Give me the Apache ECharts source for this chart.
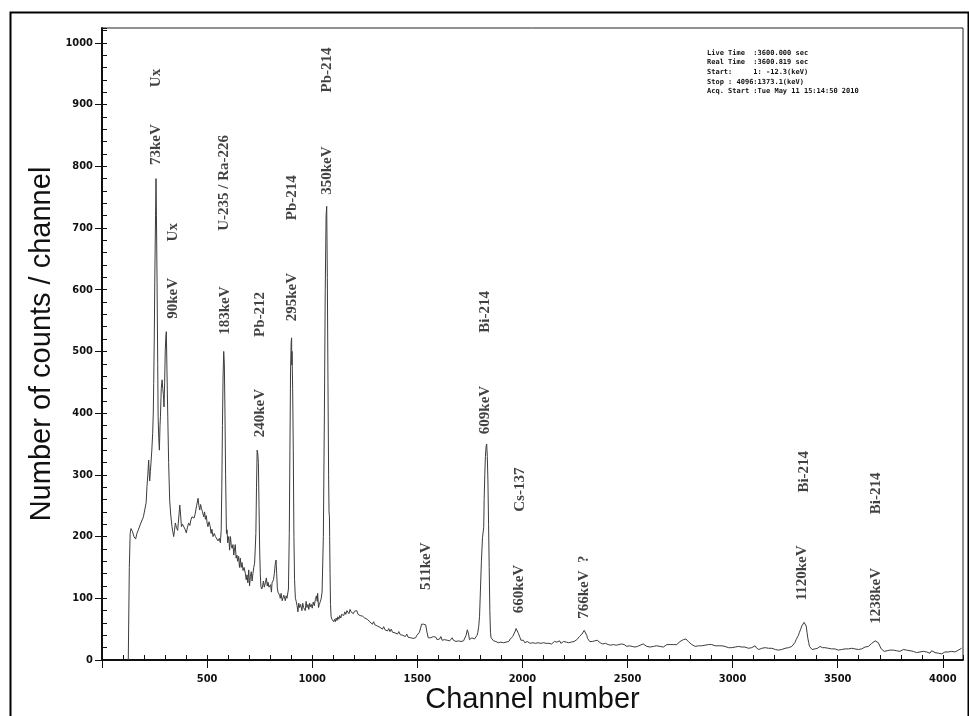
<!DOCTYPE html>
<html><head><meta charset="utf-8">
<script src="https://cdn.jsdelivr.net/npm/echarts@6/dist/echarts.min.js"></script>
<style>html,body{margin:0;padding:0;background:#fff}#c{width:969px;height:716px}</style>
</head><body><div id="c"></div>
<script>
// ---- data ----
const channels = [125,130,134,138,145,152,160,166,172,178,185,191,197,202,206,210,214,218,222,225,227,230,233,237,241,244,246,249,251,254,257,259,262,265,267,270,273,276,278,282,286,289,292,295,298,301,304,306,309,313,317,322,327,333,337,341,345,349,354,360,365,370,374,378,383,389,395,401,406,412,418,423,428,433,438,444,450,457,461,465,469,473,478,484,488,492,496,500,504,509,515,519,523,528,534,540,547,552,558,563,567,570,573,576,579,582,585,588,592,595,598,603,607,611,615,619,623,627,630,634,638,642,645,650,654,658,662,666,671,676,682,686,690,694,698,702,706,710,714,718,722,726,729,732,735,738,741,744,747,750,753,756,760,764,768,772,777,782,786,790,794,797,802,806,809,813,816,820,824,828,831,834,837,841,845,848,852,857,861,865,869,872,876,880,883,887,891,894,897,900,902,903,904,907,910,913,916,920,924,928,932,936,940,945,951,955,959,963,967,971,975,980,984,988,992,996,1000,1005,1010,1015,1020,1024,1026,1030,1034,1039,1043,1047,1053,1058,1062,1066,1069,1072,1075,1078,1080,1082,1083,1085,1087,1090,1094,1098,1102,1106,1110,1114,1118,1122,1127,1131,1136,1140,1145,1150,1155,1160,1165,1170,1175,1180,1185,1190,1196,1201,1207,1212,1218,1223,1228,1234,1240,1245,1250,1256,1262,1268,1274,1280,1286,1292,1298,1304,1310,1316,1322,1328,1334,1340,1346,1352,1358,1364,1370,1376,1382,1388,1394,1400,1406,1412,1419,1425,1431,1437,1443,1450,1456,1462,1468,1474,1480,1486,1492,1498,1504,1510,1516,1520,1525,1530,1535,1540,1546,1552,1558,1564,1570,1576,1582,1588,1594,1600,1606,1612,1618,1624,1630,1636,1642,1648,1654,1660,1666,1672,1678,1684,1690,1696,1702,1708,1714,1720,1726,1732,1738,1744,1748,1752,1756,1760,1766,1772,1778,1784,1788,1792,1796,1800,1805,1810,1814,1816,1818,1821,1824,1827,1830,1833,1836,1839,1842,1845,1848,1851,1854,1858,1863,1868,1874,1879,1885,1890,1896,1902,1910,1916,1922,1928,1935,1942,1948,1954,1960,1966,1970,1974,1977,1981,1985,1989,1993,1998,2005,2011,2017,2023,2030,2037,2043,2049,2056,2062,2069,2075,2082,2088,2094,2100,2107,2113,2120,2126,2132,2139,2145,2152,2158,2164,2170,2177,2183,2190,2196,2202,2208,2214,2220,2227,2233,2240,2246,2252,2259,2265,2271,2277,2283,2289,2294,2298,2302,2306,2310,2314,2320,2326,2332,2338,2344,2350,2356,2362,2370,2376,2382,2388,2395,2402,2408,2414,2420,2427,2433,2440,2446,2452,2459,2465,2471,2478,2484,2490,2497,2503,2509,2515,2522,2528,2535,2541,2548,2554,2560,2567,2575,2583,2592,2600,2608,2615,2623,2631,2639,2647,2655,2663,2671,2679,2687,2695,2703,2711,2719,2727,2734,2742,2750,2758,2766,2772,2778,2785,2792,2799,2806,2814,2822,2830,2838,2845,2853,2861,2869,2877,2885,2893,2901,2909,2917,2925,2933,2941,2949,2956,2964,2972,2980,2988,2996,3004,3012,3020,3028,3036,3044,3051,3059,3067,3075,3083,3091,3099,3107,3115,3120,3125,3131,3139,3147,3155,3163,3171,3179,3187,3194,3203,3210,3218,3226,3234,3242,3250,3258,3266,3274,3282,3289,3296,3302,3308,3313,3318,3324,3329,3335,3340,3345,3350,3354,3358,3362,3366,3372,3378,3385,3392,3398,3404,3410,3416,3422,3428,3434,3440,3448,3455,3463,3471,3479,3487,3495,3503,3511,3519,3527,3535,3543,3551,3559,3566,3574,3582,3590,3598,3606,3614,3622,3630,3638,3646,3654,3662,3670,3678,3686,3693,3701,3707,3714,3721,3728,3735,3741,3748,3756,3765,3772,3780,3788,3796,3804,3812,3820,3828,3836,3844,3852,3860,3868,3875,3883,3891,3899,3907,3915,3923,3931,3939,3947,3955,3963,3971,3979,3987,3995,4003,4010,4018,4026,4034,4042,4050,4058,4066,4074,4081,4089,4095];
const counts = [0,150,205,213,208,200,196,205,210,207,222,227,232,235,230,255,281,300,324,300,290,305,319,340,367,400,448,530,611,700,780,720,611,480,394,360,340,380,394,440,454,440,430,410,450,502,525,532,470,394,320,259,235,216,208,200,210,222,215,210,230,251,235,216,220,222,212,206,214,222,218,227,232,235,230,238,250,262,250,243,252,246,240,232,240,228,234,222,216,224,216,205,212,200,205,200,197,193,197,190,210,280,380,460,500,480,400,300,205,211,190,200,178,200,186,181,187,170,178,187,165,170,160,168,150,165,150,158,145,150,140,130,138,125,146,120,135,143,128,140,150,157,180,205,280,340,335,320,250,180,140,119,115,120,128,118,125,133,120,126,118,115,122,110,125,122,130,140,155,162,140,118,110,112,105,100,108,96,97,105,100,96,104,100,97,115,205,340,470,515,522,478,500,440,340,200,130,100,95,88,78,92,85,90,80,92,85,88,80,95,85,90,82,92,86,90,84,94,88,98,104,95,108,85,90,95,100,110,200,400,600,720,735,620,450,300,240,232,200,140,90,70,66,63,62,66,62,68,64,70,66,72,68,74,76,72,78,74,80,78,75,82,78,81,75,79,76,80,74,76,72,74,71,73,68,70,66,68,62,65,58,62,57,60,55,58,53,56,50,54,49,52,47,51,46,50,45,48,44,47,42,46,41,44,40,43,38,42,37,40,36,39,35,38,36,40,38,45,52,58,60,58,56,57,45,36,33,36,34,38,35,37,33,36,34,38,32,35,33,36,32,35,31,34,36,32,34,30,33,31,34,30,32,31,33,40,49,42,33,30,34,36,38,34,36,40,45,54,70,110,160,198,200,215,260,300,330,345,350,330,290,220,150,80,45,36,33,35,31,33,30,32,28,31,29,32,28,31,29,32,30,34,33,38,41,47,51,53,48,43,41,36,32,30,32,28,31,30,31,27,30,28,31,27,29,28,30,27,30,28,31,27,29,27,30,26,29,30,27,29,28,31,27,28,30,27,29,30,28,31,29,32,30,32,33,36,38,38,42,45,48,50,45,40,35,33,30,32,30,28,31,29,32,31,28,30,26,29,27,29,25,27,24,26,25,27,24,27,25,24,26,23,25,24,22,25,23,24,22,24,21,23,22,22,24,22,26,24,22,24,21,24,22,25,23,26,22,24,21,23,25,22,25,28,25,27,25,28,30,31,33,34,34,31,29,27,25,24,22,24,23,25,23,26,24,26,25,23,25,22,23,21,23,22,23,20,22,19,20,22,20,22,21,19,22,20,21,19,21,18,19,21,20,22,23,19,18,17,20,19,21,20,22,19,21,19,18,17,19,16,18,17,19,19,21,20,22,22,25,28,33,36,40,45,50,55,58,61,62,55,45,35,28,22,20,17,16,18,17,19,18,22,24,20,19,20,18,19,17,18,16,18,17,16,18,17,19,18,20,18,20,19,21,18,19,17,19,18,20,21,19,22,24,27,29,31,30,28,25,18,15,14,13,15,14,16,15,16,14,15,16,14,16,17,18,16,13,15,13,14,15,12,15,13,12,14,12,13,14,11,15,13,12,14,11,12,10,11,13,15,13,12,14,12,13,15,16,18,19];

// tick labels
const xTickLabels = [500,1000,1500,2000,2500,3000,3500,4000];
const yTickLabels = [0,100,200,300,400,500,600,700,800,900,1000];

// peak annotations (text, channel, counts at label centre)
const annTexts    = ['Ux','73keV','Ux','90keV','U-235 / Ra-226','183keV','Pb-212','240keV','Pb-214','295keV','Pb-214','350keV','Bi-214','609keV','Cs-137','660keV','511keV','766keV  ?','Bi-214','1120keV','Bi-214','1238keV'];
const annChannels = [258,258,340,340,580,586,750,750,903,903,1069,1069,1825,1825,1991,1986,1541,2293,3339,3333,3684,3684];
const annCounts   = [943,835,693,586,773,566,560,400,749,588,956,793,564,405,276,115,152,118,305,141,270,104];

// acquisition info box
const infoLines = ['Live Time  :3600.000 sec','Real Time  :3600.819 sec','Start:     1: -12.3(keV)','Stop : 4096:1373.1(keV)','Acq. Start :Tue May 11 15:14:50 2010'];

const chart = echarts.init(document.getElementById('c'), null, {renderer:'canvas'});
const lineData = channels.map((c,i)=>[c,counts[i]]);
const annData = annChannels.map((c,i)=>[c,annCounts[i],annTexts[i]]);
const tickFont = {fontFamily:'DejaVu Sans Condensed', fontWeight:'bold', fontSize:11, color:'#111'};

chart.setOption({
  animation:false,
  backgroundColor:'#fff',
  grid:{left:102,right:6,top:28,bottom:56,show:true,borderColor:'#222',borderWidth:1,backgroundColor:'transparent',
    containLabel:false,outerBoundsMode:'none'},
  xAxis:[{
    type:'value',position:'bottom',min:0,max:4096,interval:500,
    axisLine:{show:true,onZero:false,lineStyle:{color:'#111',width:2}},
    axisTick:{show:true,inside:false,length:8,lineStyle:{color:'#111',width:1}},
    splitLine:{show:false},
    axisLabel:Object.assign({margin:14,showMaxLabel:false,formatter:v=>xTickLabels.includes(v)?String(v):''},tickFont),
    name:'Channel number',nameLocation:'middle',nameGap:25,nameMoveOverlap:false,
    nameTextStyle:{fontFamily:'Liberation Sans',fontSize:29,color:'#111'}
  },{
    type:'value',position:'bottom',min:0,max:4096,interval:100,
    axisLine:{show:false},axisLabel:{show:false},splitLine:{show:false},
    axisTick:{show:true,inside:true,length:5,lineStyle:{color:'#111',width:1}}
  }],
  yAxis:[{
    type:'value',position:'left',min:0,max:1024,interval:100,
    axisLine:{show:true,onZero:false,lineStyle:{color:'#111',width:2}},
    axisTick:{show:true,inside:false,length:7,lineStyle:{color:'#111',width:1}},
    splitLine:{show:false},
    axisLabel:Object.assign({margin:9,showMaxLabel:false,formatter:v=>yTickLabels.includes(v)?String(v):''},tickFont),
    name:'Number of counts / channel',nameLocation:'middle',nameGap:46,nameRotate:90,nameMoveOverlap:false,
    nameTextStyle:{fontFamily:'Liberation Sans',fontSize:29,color:'#111'}
  },{
    type:'value',position:'left',min:0,max:1024,interval:20,
    axisLine:{show:false},axisLabel:{show:false},splitLine:{show:false},
    axisTick:{show:true,inside:true,length:5,lineStyle:{color:'#111',width:1}}
  }],
  series:[{
    type:'line',xAxisIndex:0,yAxisIndex:0,data:lineData,showSymbol:false,symbol:'none',
    lineStyle:{color:'#3c3c3c',width:1},z:3
  },{
    type:'scatter',xAxisIndex:0,yAxisIndex:0,data:annData,symbolSize:1,
    itemStyle:{color:'rgba(0,0,0,0)'},
    label:{show:true,position:'inside',rotate:90,align:'center',verticalAlign:'middle',
      formatter:p=>p.data[2],fontFamily:'Liberation Serif',fontWeight:'bold',fontSize:15,color:'#111'},
    z:4
  }],
  graphic:[{
    type:'rect',left:8,top:10,shape:{x:0,y:0,width:958,height:720},
    style:{fill:'none',stroke:'#000',lineWidth:2},silent:true
  },{
    type:'text',left:707,top:48,
    style:{text:infoLines.join('\n'),fontFamily:'DejaVu Sans Mono',fontWeight:'bold',fontSize:7,lineHeight:9.7,fill:'#111'}
  }]
});
</script>
</body></html>
